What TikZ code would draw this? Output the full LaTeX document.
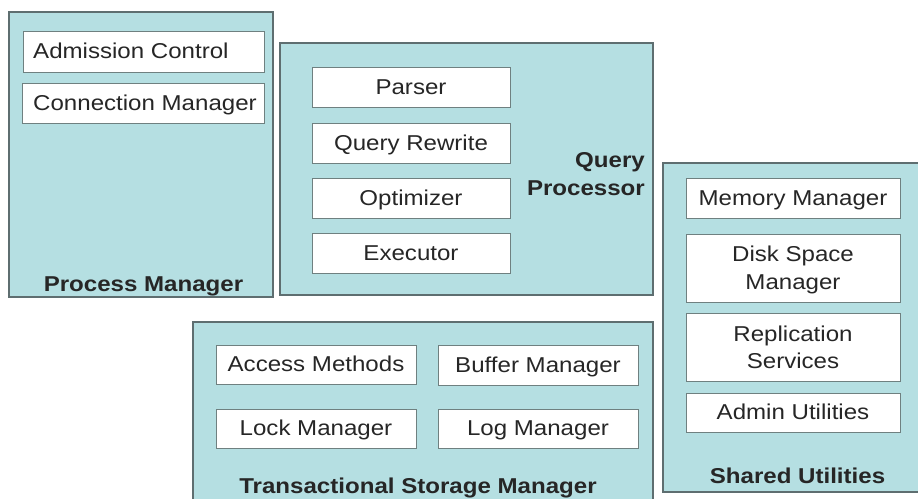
\documentclass[tikz,border=0pt]{standalone}
\usepackage{fontspec}
\setmainfont[FakeStretch=1.12]{Liberation Sans}
\definecolor{panelfill}{HTML}{B5DFE2}
\definecolor{panelline}{HTML}{5E6E70}
\definecolor{itemline}{HTML}{6F8080}
\begin{document}
\begin{tikzpicture}[x=1pt,y=-1pt,
  panel/.style={fill=panelfill,draw=panelline,line width=1.4pt},
  item/.style={fill=white,draw=itemline,line width=1pt},
  itemtext/.style={font=\fontsize{21.5}{28}\selectfont,text=black!85,anchor=base,inner sep=0pt},
  paneltitle/.style={font=\fontsize{21.5}{28}\selectfont\bfseries,text=black!85,anchor=base,inner sep=0pt}]
\useasboundingbox (0,0) rectangle (918,498);
\begin{scope}
\clip (0,0) rectangle (918,498);

% Process Manager
\draw[panel] (9,12) rectangle (273,297);
\draw[item] (23,31) rectangle (264,72);
\node[itemtext,anchor=base west] (adm) at (33,58) {Admission Control};
\draw[item] (22,83) rectangle (264,123);
\node[itemtext,anchor=base west] (conn) at (33,110) {Connection Manager};
\node[paneltitle] (pm) at (143.5,291.5) {Process Manager};

% Query Processor
\draw[panel] (280,43) rectangle (653,295);
\draw[item] (312,67) rectangle (510,107);
\node[itemtext] (parser) at (411,94) {Parser};
\draw[item] (312,123) rectangle (510,163);
\node[itemtext] (rewrite) at (411,150) {Query Rewrite};
\draw[item] (312,178) rectangle (510,218);
\node[itemtext] (opt) at (411,205) {Optimizer};
\draw[item] (312,233) rectangle (510,273);
\node[itemtext] (exec) at (411,260) {Executor};
\node[paneltitle,anchor=base east] (qp1) at (645,167) {Query};
\node[paneltitle,anchor=base east] (qp2) at (645,195.5) {Processor};

% Transactional Storage Manager
\draw[panel] (193,322) rectangle (653,520);
\draw[item] (216,345) rectangle (416,384);
\node[itemtext] (access) at (316,371.5) {Access Methods};
\draw[item] (438,345) rectangle (638,385);
\node[itemtext] (buffer) at (538,372) {Buffer Manager};
\draw[item] (216,409) rectangle (416,448);
\node[itemtext] (lock) at (316,435.5) {Lock Manager};
\draw[item] (438,409) rectangle (638,448);
\node[itemtext] (log) at (538,435.5) {Log Manager};
\node[paneltitle] (tsm) at (418,493) {Transactional Storage Manager};

% Shared Utilities
\draw[panel] (663,163) rectangle (930,492);
\draw[item] (686,178) rectangle (900,218);
\node[itemtext] (mem) at (793,205) {Memory Manager};
\draw[item] (686,234) rectangle (900,302);
\node[itemtext] (disk1) at (793,261.5) {Disk Space};
\node[itemtext] (disk2) at (793,289.5) {Manager};
\draw[item] (686,313) rectangle (900,381);
\node[itemtext] (repl1) at (793,341.5) {Replication};
\node[itemtext] (repl2) at (793,368.5) {Services};
\draw[item] (686,393) rectangle (900,432);
\node[itemtext] (admin) at (793,419.5) {Admin Utilities};
\node[paneltitle] (su) at (797.5,483) {Shared Utilities};
\end{scope}
\end{tikzpicture}
\end{document}
